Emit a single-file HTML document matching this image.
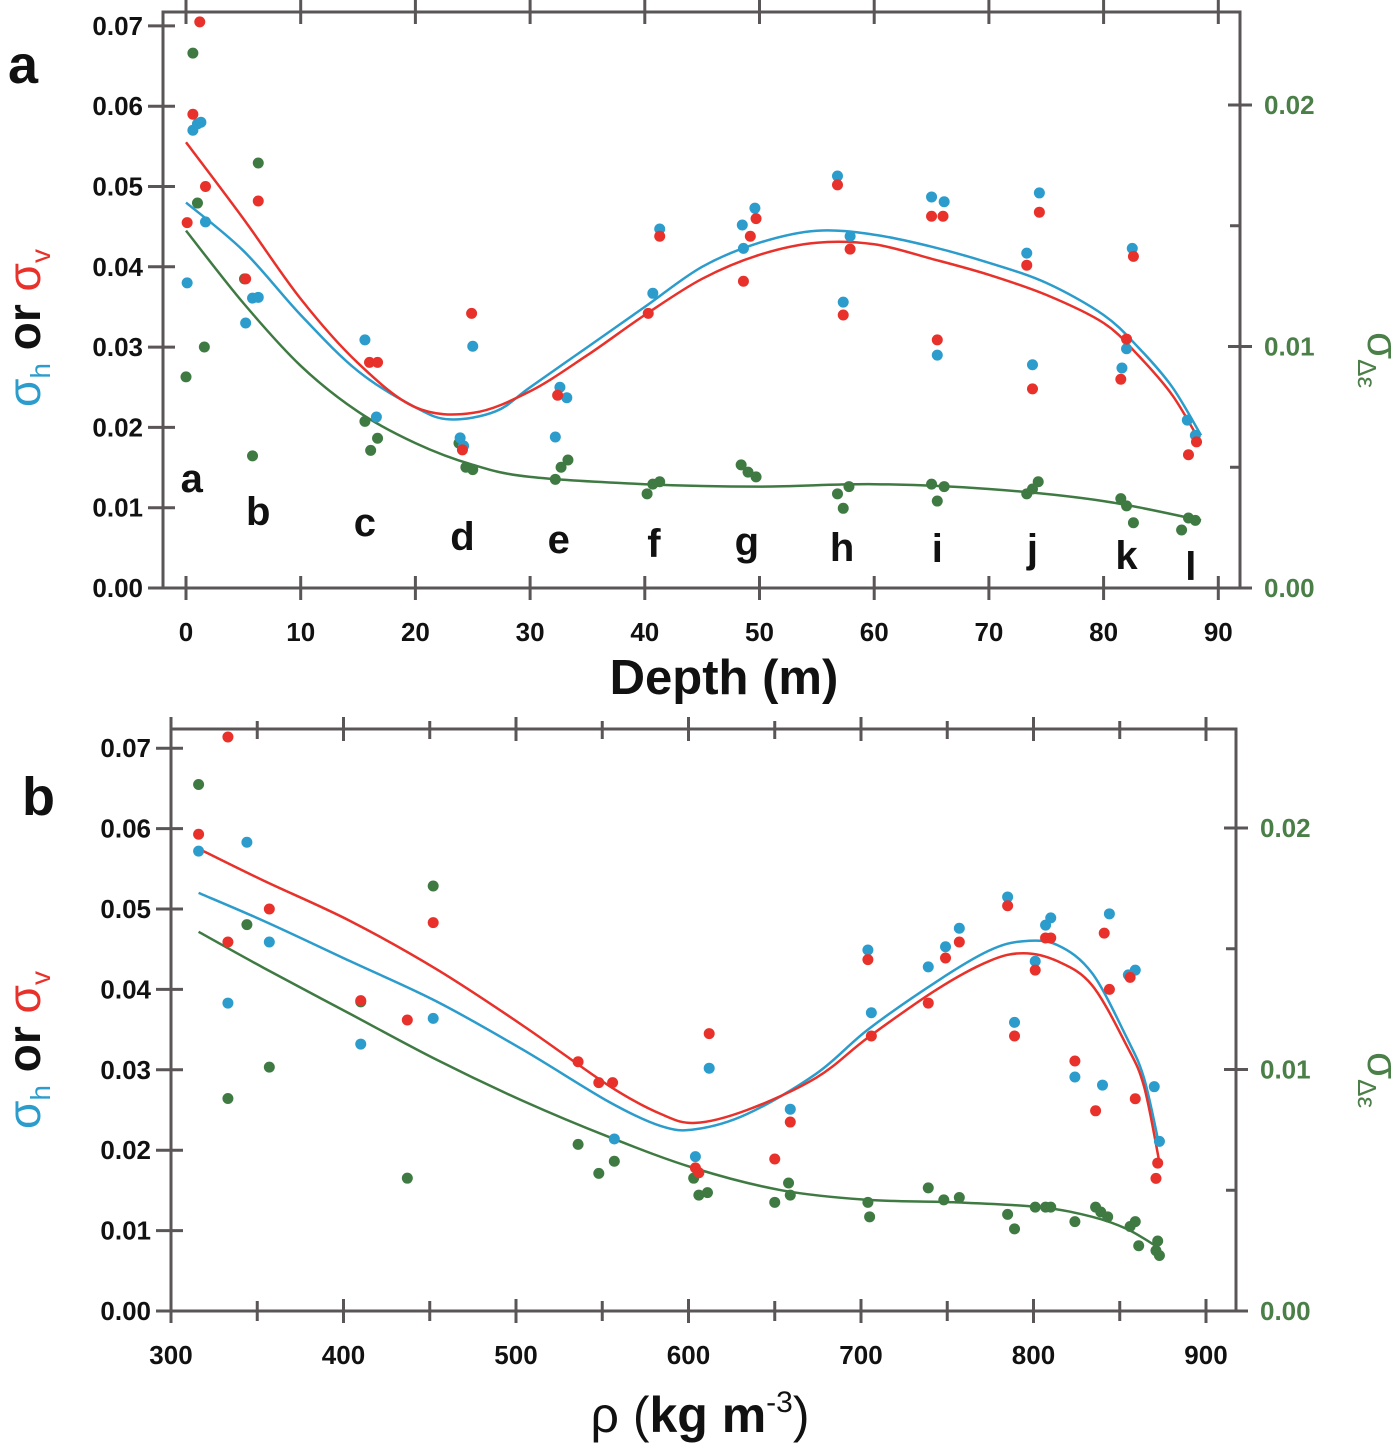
<!DOCTYPE html>
<html><head><meta charset="utf-8">
<style>
html,body{margin:0;padding:0;background:#fff;}
svg{display:block;font-family:"Liberation Sans",Arial,sans-serif;}
.tk{font-weight:bold;font-size:26px;}
</style></head>
<body>
<svg id="chart" width="1400" height="1447" viewBox="0 0 1400 1447" xmlns="http://www.w3.org/2000/svg"></svg>
<script>
// ---------- Panel a data (depth m) ----------
const aBlueX=[0.1,0.6,1.0,1.3,1.7,5.2,5.8,6.3,15.6,16.6,23.9,24.2,25.0,32.2,32.6,33.2,40.7,41.3,48.5,48.6,49.6,56.8,57.3,57.9,65.0,65.5,66.1,73.3,73.8,74.4,81.6,82.0,82.5,87.3,88.0];
const aBlueY=[0.038,0.057,0.0578,0.058,0.0456,0.033,0.0361,0.0362,0.0309,0.0213,0.0187,0.0177,0.0301,0.0188,0.025,0.0237,0.0367,0.0447,0.0452,0.0423,0.0473,0.0513,0.0356,0.0438,0.0487,0.029,0.0481,0.0417,0.0278,0.0492,0.0274,0.0298,0.0423,0.0209,0.019];
const aRedX=[0.1,0.6,1.2,1.7,5.2,6.3,16.0,16.7,24.1,24.9,32.4,40.3,41.3,48.6,49.2,49.7,56.8,57.3,57.9,65.0,65.5,66.0,73.3,73.8,74.4,81.5,82.0,82.6,87.4,88.1];
const aRedY=[0.0455,0.059,0.0705,0.05,0.0385,0.0482,0.0281,0.0281,0.0172,0.0342,0.024,0.0342,0.0438,0.0382,0.0438,0.046,0.0502,0.034,0.0422,0.0463,0.0309,0.0463,0.0402,0.0248,0.0468,0.026,0.031,0.0413,0.0166,0.0182];
const aGreenX=[0,0.6,1.0,1.6,5.1,5.8,6.3,15.6,16.1,16.7,23.8,24.4,25.0,32.2,32.7,33.3,40.2,40.7,41.3,48.4,49.0,49.7,56.8,57.3,57.8,65.0,65.5,66.1,73.3,73.8,74.3,81.5,82.0,82.6,86.8,87.4,88.0];
const aGreenY=[0.00874,0.02215,0.01594,0.00998,0.0128,0.00547,0.0176,0.0069,0.0057,0.0062,0.006,0.005,0.0049,0.0045,0.005,0.0053,0.0039,0.0043,0.0044,0.0051,0.0048,0.0046,0.0039,0.0033,0.0042,0.0043,0.0036,0.0042,0.0039,0.0041,0.0044,0.0037,0.0034,0.0027,0.0024,0.0029,0.0028];
const aFitBlueX=[0,5,10,15,20,23,27,30,35,40,45,50,55,60,65,70,75,80,83,86,88.5];
const aFitBlueY=[0.048,0.042,0.034,0.027,0.0225,0.021,0.022,0.025,0.030,0.035,0.040,0.043,0.0445,0.044,0.0425,0.0405,0.038,0.034,0.030,0.025,0.019];
const aFitRedX=[0,5,10,15,20,25,30,35,40,45,50,55,60,65,70,75,80,83,86,88.5];
const aFitRedY=[0.0555,0.046,0.036,0.028,0.0225,0.0218,0.0245,0.029,0.034,0.0385,0.0415,0.043,0.0428,0.041,0.039,0.0365,0.033,0.029,0.024,0.018];
const aFitGreenX=[0,5,10,15,20,25,30,40,50,60,70,80,88.5];
const aFitGreenY=[0.0148,0.0118,0.0092,0.0073,0.006,0.0051,0.0046,0.0043,0.0042,0.0043,0.0041,0.0036,0.0028];
const aLetters=['a','b','c','d','e','f','g','h','i','j','k','l'];
const aLetterX=[0.5,6.3,15.6,24.1,32.5,40.8,48.9,57.2,65.5,73.8,82,87.6];
const aXTicks=[0,10,20,30,40,50,60,70,80,90];
const yTicksLeft=[0,0.01,0.02,0.03,0.04,0.05,0.06,0.07];
const yTicksRight=[0,0.01,0.02];

// ---------- Panel b data (density kg m-3) ----------
const bBlueX=[316,333,344,357,410,452,557,604,612,659,704,706,739,749,757,785,789,801,807,810,824,840,844,855,859,870,873];
const bBlueY=[0.0572,0.0383,0.0583,0.0459,0.0332,0.0364,0.0214,0.0192,0.0302,0.0251,0.0449,0.0371,0.0428,0.0453,0.0476,0.0515,0.0359,0.0435,0.048,0.0489,0.0291,0.0281,0.0494,0.0418,0.0424,0.0279,0.0211];
const bRedX=[316,333,333,357,410,437,452,536,548,556,604,606,612,650,659,704,706,739,749,757,785,789,801,807,810,824,836,841,844,856,859,871,872];
const bRedY=[0.0593,0.0459,0.0714,0.05,0.0386,0.0362,0.0483,0.031,0.0284,0.0284,0.0178,0.0172,0.0345,0.0189,0.0235,0.0437,0.0342,0.0383,0.0439,0.0459,0.0504,0.0342,0.0424,0.0464,0.0464,0.0311,0.0249,0.047,0.04,0.0415,0.0264,0.0165,0.0184];
const bGreenX=[316,333,344,357,410,437,452,536,548,557,603,606,611,650,658,659,704,705,739,748,757,785,789,801,807,810,824,836,839,843,856,859,861,871,872,873];
const bGreenY=[0.0218,0.0088,0.016,0.0101,0.0128,0.0055,0.0176,0.0069,0.0057,0.0062,0.0055,0.0048,0.0049,0.0045,0.0053,0.0048,0.0045,0.0039,0.0051,0.0046,0.0047,0.004,0.0034,0.0043,0.0043,0.0043,0.0037,0.0043,0.0041,0.0039,0.0035,0.0037,0.0027,0.0025,0.0029,0.0023];
const bFitBlueX=[316,354,404,454,504,554,584,604,634,674,704,744,774,794,814,834,854,864,873];
const bFitBlueY=[0.052,0.0485,0.0435,0.0385,0.0325,0.026,0.023,0.0226,0.0245,0.0295,0.035,0.041,0.0448,0.046,0.0455,0.042,0.034,0.029,0.0205];
const bFitRedX=[316,354,404,454,504,554,584,604,634,674,704,744,774,794,814,834,854,864,873];
const bFitRedY=[0.0575,0.0535,0.0485,0.0425,0.0355,0.028,0.0245,0.0234,0.025,0.029,0.034,0.040,0.0435,0.0445,0.0435,0.0405,0.033,0.028,0.0185];
const bFitGreenX=[316,354,404,454,504,554,604,654,704,754,804,834,854,873];
const bFitGreenY=[0.0157,0.0142,0.0123,0.0104,0.0087,0.0072,0.0059,0.005,0.0046,0.0045,0.0043,0.0039,0.0034,0.0026];
const bXTicks=[300,400,500,600,700,800,900];

const NS='http://www.w3.org/2000/svg';
const svg=document.getElementById('chart');
const BLUE='#2b9ccb',RED='#e8312a',GREEN='#3f7a43',AX='#5a5556',GTXT='#4a7f47';
function mk(tag,attrs,parent){const e=document.createElementNS(NS,tag);for(const k in attrs)e.setAttribute(k,attrs[k]);(parent||svg).appendChild(e);return e;}
function txt(s,x,y,attrs,parent){const t=mk('text',Object.assign({x:x,y:y},attrs),parent);t.textContent=s;return t;}
function smooth(pts){
  let d='M'+pts[0][0].toFixed(1)+','+pts[0][1].toFixed(1);
  for(let i=0;i<pts.length-1;i++){
    const p0=pts[i-1]||pts[i],p1=pts[i],p2=pts[i+1],p3=pts[i+2]||p2;
    const c1=[p1[0]+(p2[0]-p0[0])/6,p1[1]+(p2[1]-p0[1])/6];
    const c2=[p2[0]-(p3[0]-p1[0])/6,p2[1]-(p3[1]-p1[1])/6];
    d+=' C'+c1[0].toFixed(1)+','+c1[1].toFixed(1)+' '+c2[0].toFixed(1)+','+c2[1].toFixed(1)+' '+p2[0].toFixed(1)+','+p2[1].toFixed(1);
  }
  return d;
}

function panel(cfg){
  const g=mk('g',{});
  
  
  const L=cfg.L,R=cfg.R,T=cfg.T,B=cfg.B;
  const xs=v=>cfg.x0+(v-cfg.xmin)*cfg.xk;
  const yl=v=>B-v*cfg.ylk;
  const yr=v=>B-v*cfg.yrk;
  const fr=mk('path',{d:`M${L},${B} L${L},${T} L${R},${T} L${R},${B}`,fill:'none',stroke:AX,'stroke-width':3},g);
  
  
  const xa=mk('line',{x1:L-15,y1:B,x2:R,y2:B,stroke:AX,'stroke-width':3},g);
  
  
  yTicksLeft.forEach(v=>{
    const y=yl(v);
    mk('line',{x1:L-15,y1:y,x2:L+12,y2:y,stroke:AX,'stroke-width':3},g);
    const t=txt(v.toFixed(2),L-20,y+9,{'text-anchor':'end',class:'tk',fill:'#111'},g);
    
    
  });
  yTicksRight.forEach(v=>{
    const y=yr(v);
    mk('line',{x1:R-12,y1:y,x2:R+12,y2:y,stroke:AX,'stroke-width':3},g);
    const t=txt(v.toFixed(2),R+24,y+9,{class:'tk',fill:GTXT},g);
    
    
    if(v<0.02){const ym=yr(v+0.005);mk('line',{x1:R-10,y1:ym,x2:R,y2:ym,stroke:AX,'stroke-width':3},g);}
  });
  cfg.xt.forEach((v,i)=>{
    const x=xs(v);
    mk('line',{x1:x,y1:B-12,x2:x,y2:B+12,stroke:AX,'stroke-width':3},g);
    if(cfg.topTicks) mk('line',{x1:x,y1:0,x2:x,y2:T+12,stroke:AX,'stroke-width':3},g);
    if(cfg.minor&&i<cfg.xt.length-1){const xm=xs(v+cfg.minor);mk('line',{x1:xm,y1:B-10,x2:xm,y2:B+10,stroke:AX,'stroke-width':3},g);
      mk('line',{x1:xm,y1:T-8,x2:xm,y2:T+10,stroke:AX,'stroke-width':3},g);}
    if(!cfg.topTicks&&cfg.minor) mk('line',{x1:x,y1:T-12,x2:x,y2:T+12,stroke:AX,'stroke-width':3},g);
    const t=txt(String(v),x,B+53,{'text-anchor':'middle',class:'tk',fill:'#111'},g);
    
    
  });
  const fit=(X,Y,scale,col,nm)=>{
    const p=mk('path',{d:smooth(X.map((v,i)=>[xs(v),scale(Y[i])])),fill:'none',stroke:col,'stroke-width':2.5},g);
    
    
  };
  fit(cfg.fg[0],cfg.fg[1],yr,GREEN,'fit-line-sigma-delta-eps');
  fit(cfg.fb[0],cfg.fb[1],yl,BLUE,'fit-line-sigma-h');
  fit(cfg.fr[0],cfg.fr[1],yl,RED,'fit-line-sigma-v');
  const dots=(X,Y,scale,col,nm)=>{
    X.forEach((v,i)=>{
      const c=mk('circle',{cx:xs(v),cy:scale(Y[i]),r:5.5,fill:col},g);
      
      
    });
  };
  dots(cfg.g[0],cfg.g[1],yr,GREEN,'point-sigma-delta-eps');
  dots(cfg.b[0],cfg.b[1],yl,BLUE,'point-sigma-h');
  dots(cfg.r[0],cfg.r[1],yl,RED,'point-sigma-v');
  return {g,xs,yl,yr};
}

const A=panel({name:'panel-a',L:163,R:1240,T:12,B:588,x0:186,xmin:0,xk:11.47,ylk:8030,yrk:24150,xt:aXTicks,topTicks:true,
  b:[aBlueX,aBlueY],r:[aRedX,aRedY],g:[aGreenX,aGreenY],fb:[aFitBlueX,aFitBlueY],fr:[aFitRedX,aFitRedY],fg:[aFitGreenX,aFitGreenY]});
const letterBase=[492,525,536,550,553,557,555,561,562,562,569,580];
aLetters.forEach((s,i)=>{
  const t=txt(s,A.xs(aLetterX[i]),letterBase[i],{'text-anchor':'middle','font-size':40,'font-weight':'bold',fill:'#111'},A.g);
  
  
});
const B2=panel({name:'panel-b',L:171,R:1236,T:729,B:1311,x0:171,xmin:300,xk:1.725,ylk:8040,yrk:24150,xt:bXTicks,topTicks:false,minor:50,
  b:[bBlueX,bBlueY],r:[bRedX,bRedY],g:[bGreenX,bGreenY],fb:[bFitBlueX,bFitBlueY],fr:[bFitRedX,bFitRedY],fg:[bFitGreenX,bFitGreenY]});

let t=txt('a',8,83,{'font-size':54,'font-weight':'bold',fill:'#111'});


t=txt('b',22,815,{'font-size':54,'font-weight':'bold',fill:'#111'});


t=txt('Depth (m)',724,694,{'text-anchor':'middle','font-size':49,'font-weight':'bold',fill:'#111'});


t=mk('text',{x:700,y:1432,'text-anchor':'middle','font-size':50,fill:'#111'});
t.innerHTML='ρ (<tspan font-weight="bold">kg m</tspan><tspan font-size="30" dy="-20">-3</tspan><tspan dy="20">)</tspan>';


function leftTitle(cx,cy,nm){
  const tt=mk('text',{transform:`translate(${cx},${cy}) rotate(-90)`,'text-anchor':'middle','font-size':46});
  tt.innerHTML=`<tspan fill="${BLUE}">σ</tspan><tspan fill="${BLUE}" font-size="28" dy="10">h</tspan><tspan dy="-10" fill="#111" font-weight="bold"> or </tspan><tspan fill="${RED}">σ</tspan><tspan fill="${RED}" font-size="28" dy="10">v</tspan>`;
  
  
}
leftTitle(40,328,'y-axis-title-left-a');
leftTitle(40,1050,'y-axis-title-left-b');
function rightTitle(cx,cy,nm){
  const tt=mk('text',{transform:`translate(${cx},${cy}) rotate(90)`,'text-anchor':'middle','font-size':44,fill:GTXT});
  tt.innerHTML=`σ<tspan font-size="26" dy="10">Δε</tspan>`;
  
  
}
rightTitle(1368,360,'y-axis-title-right-a');
rightTitle(1368,1080,'y-axis-title-right-b');
</script>
</body></html>
